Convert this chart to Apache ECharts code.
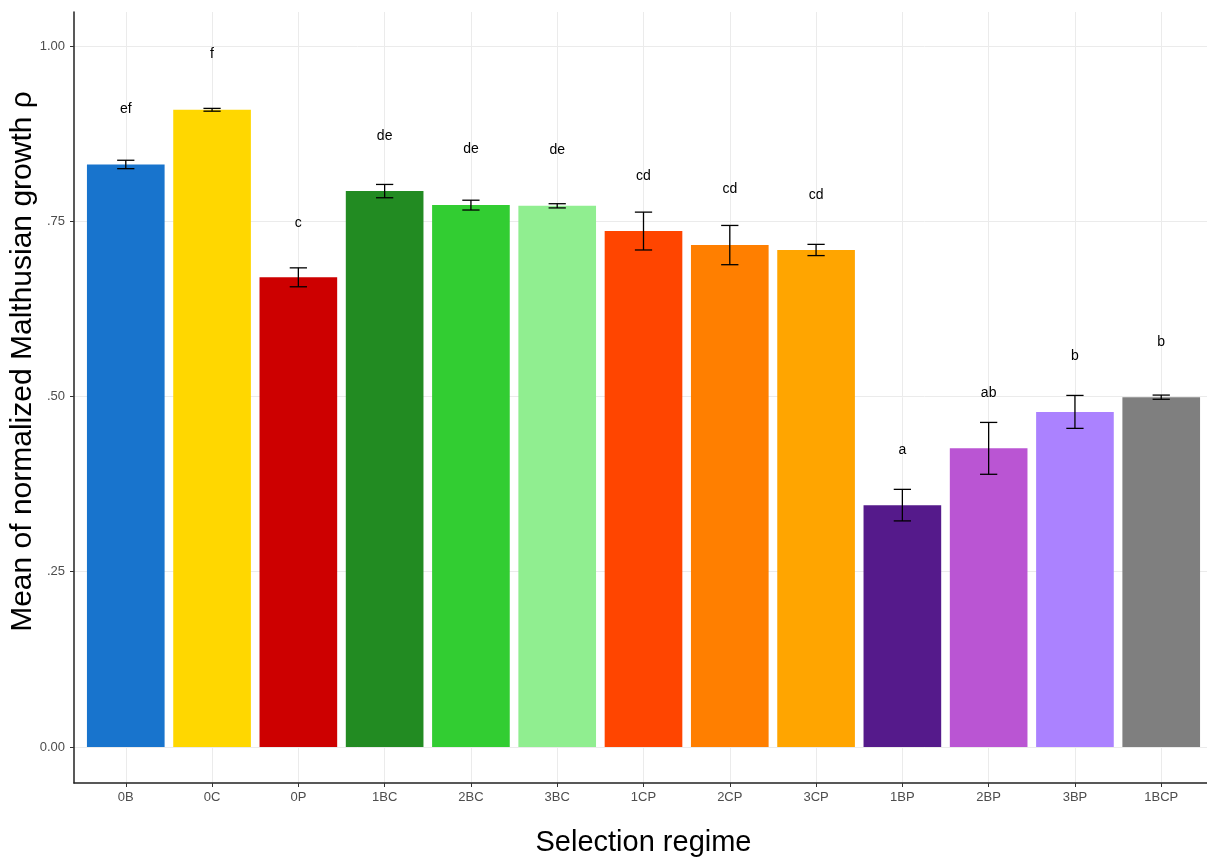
<!DOCTYPE html>
<html><head><meta charset="utf-8">
<script src="https://cdn.jsdelivr.net/npm/echarts@6/dist/echarts.min.js"></script>
<style>html,body{margin:0;padding:0;background:#fff}#c{width:1207px;height:858px}</style>
</head><body><div id="c"></div>
<script>
const categories = ['0B','0C','0P','1BC','2BC','3BC','1CP','2CP','3CP','1BP','2BP','3BP','1BCP'];
const means = [0.831,0.909,0.670,0.793,0.773,0.772,0.736,0.716,0.709,0.345,0.426,0.478,0.499];
const errors = [0.006,0.002,0.0135,0.0095,0.007,0.003,0.027,0.028,0.008,0.0225,0.037,0.0235,0.003];
const letters = ['ef','f','c','de','de','de','cd','cd','cd','a','ab','b','b'];
const letterY = [0.910,0.989,0.747,0.872,0.853,0.851,0.815,0.796,0.787,0.424,0.505,0.557,0.578];
const barColors = ['#1874CD','#FFD700','#CD0000','#228B22','#32CD32','#90EE90','#FF4500','#FF7F00','#FFA500','#551A8B','#BA55D3','#AB82FF','#7F7F7F'];
const yTicks = [0, 0.25, 0.5, 0.75, 1.0];
const yTickLabels = ['0.00','.25','.50','.75','1.00'];

const FONT = 'Liberation Sans, Arial, Helvetica, sans-serif';
const xIdx = categories.map((c, i) => i);

const chart = echarts.init(document.getElementById('c'), null, {renderer: 'canvas'});
chart.setOption({
  animation: false,
  backgroundColor: '#ffffff',
  grid: {left: 74, top: 12, right: -6, bottom: 75, outerBoundsMode: 'none', containLabel: false},
  xAxis: {
    type: 'value', min: -0.6, max: 12.6,
    name: 'Selection regime', nameLocation: 'middle', nameGap: 45, nameMoveOverlap: false,
    nameTextStyle: {fontSize: 29, color: '#000', fontFamily: FONT},
    axisLine: {onZero: false, lineStyle: {color: '#222', width: 1.5}},
    axisTick: {show: true, length: 4, customValues: xIdx, lineStyle: {color: '#333', width: 1}},
    axisLabel: {customValues: xIdx, formatter: v => categories[Math.round(v)] || '', color: '#4d4d4d', fontSize: 13, fontFamily: FONT, margin: 8},
    splitLine: {show: true, lineStyle: {color: '#ebebeb', width: 1}}
  },
  yAxis: {
    type: 'value', min: -0.0514, max: 1.0485,
    name: 'Mean of normalized Malthusian growth ρ', nameLocation: 'middle', nameGap: 36, nameMoveOverlap: false,
    nameTextStyle: {fontSize: 30, color: '#000', fontFamily: FONT, padding: [0, 0, 0, 72]},
    axisLine: {show: true, onZero: false, lineStyle: {color: '#222', width: 1.5}},
    axisTick: {show: true, length: 4, customValues: yTicks, lineStyle: {color: '#333', width: 1}},
    axisLabel: {customValues: yTicks, formatter: v => { const k = yTicks.findIndex(t => Math.abs(t - v) < 1e-6); return k >= 0 ? yTickLabels[k] : ''; }, color: '#4d4d4d', fontSize: 13, fontFamily: FONT, margin: 9},
    splitLine: {show: true, lineStyle: {color: '#ebebeb', width: 1}}
  },
  series: [
    {
      type: 'custom', name: 'bars',
      data: means.map((m, i) => [i, m]),
      renderItem: (params, api) => {
        const i = api.value(0), v = api.value(1);
        const top = api.coord([i, v]);
        const base = api.coord([i, 0]);
        const w = api.size([0.9, 0])[0];
        return {type: 'rect', shape: {x: top[0] - w / 2, y: top[1], width: w, height: base[1] - top[1]},
          style: {fill: barColors[i]}};
      },
      z: 2
    },
    {
      type: 'custom', name: 'errors',
      data: means.map((m, i) => [i, m - errors[i], m + errors[i]]),
      renderItem: (params, api) => {
        const i = api.value(0);
        const lo = api.coord([i, api.value(1)]);
        const hi = api.coord([i, api.value(2)]);
        const hw = api.size([0.2, 0])[0] / 2;
        const st = {stroke: '#000', lineWidth: 1.3};
        return {type: 'group', children: [
          {type: 'line', shape: {x1: lo[0], y1: lo[1], x2: hi[0], y2: hi[1]}, style: st},
          {type: 'line', shape: {x1: lo[0] - hw, y1: lo[1], x2: lo[0] + hw, y2: lo[1]}, style: st},
          {type: 'line', shape: {x1: hi[0] - hw, y1: hi[1], x2: hi[0] + hw, y2: hi[1]}, style: st}
        ]};
      },
      z: 3
    },
    {
      type: 'custom', name: 'letters',
      data: letterY.map((y, i) => [i, y]),
      renderItem: (params, api) => {
        const i = api.value(0);
        const p = api.coord([i, api.value(1)]);
        return {type: 'text', x: p[0], y: p[1], style: {text: letters[i], fill: '#000', font: '14px ' + FONT, textAlign: 'center', textVerticalAlign: 'middle'}};
      },
      z: 4
    }
  ]
});
</script></body></html>
